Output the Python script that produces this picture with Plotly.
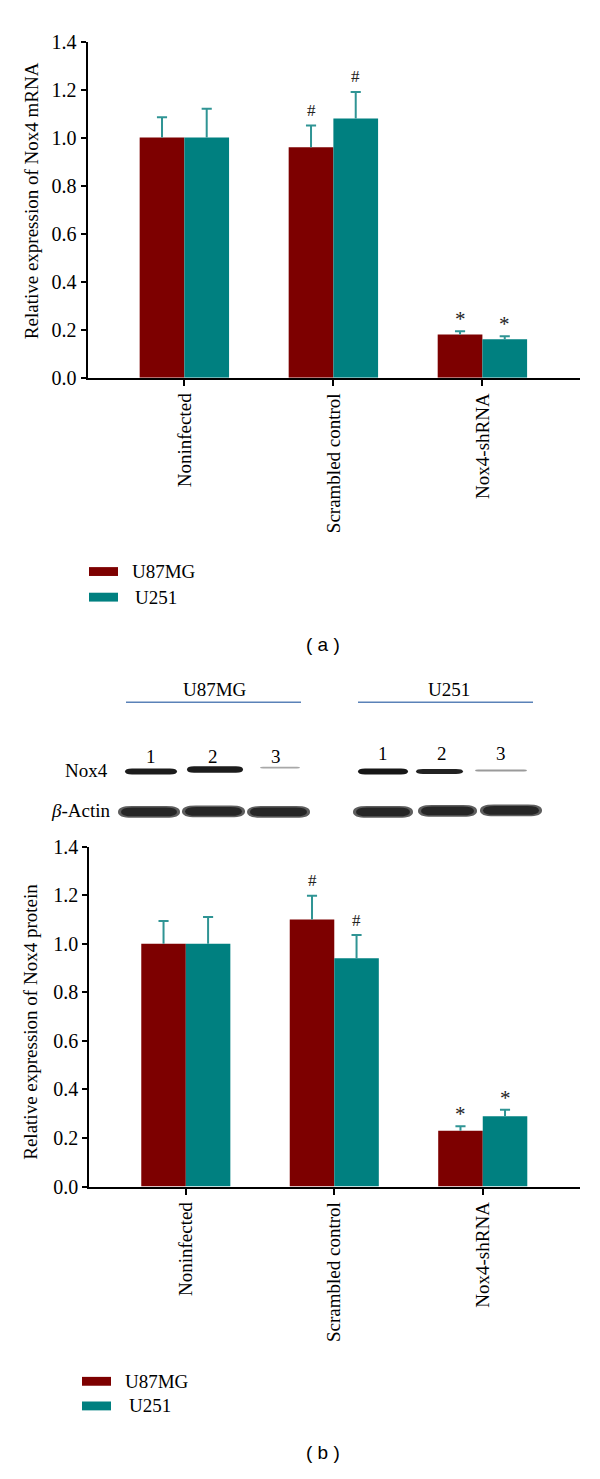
import plotly.graph_objects as go

# ---------------- data ----------------
categories = ["Noninfected", "Scrambled control", "Nox4-shRNA"]
series_names = ["U87MG", "U251"]

mrna_u87 = [1.00, 0.96, 0.18]
mrna_u87_err = [0.085, 0.09, 0.014]
mrna_u251 = [1.00, 1.08, 0.16]
mrna_u251_err = [0.12, 0.11, 0.013]

prot_u87 = [1.00, 1.10, 0.23]
prot_u87_err = [0.094, 0.098, 0.018]
prot_u251 = [1.00, 0.94, 0.29]
prot_u251_err = [0.11, 0.096, 0.026]

sig_u87 = ["", "#", "*"]
sig_u251 = ["", "#", "*"]

y_ticks = [0.0, 0.2, 0.4, 0.6, 0.8, 1.0, 1.2, 1.4]
lane_labels = ["1", "2", "3"]

# ---------------- style ----------------
W, H = 600, 1479
RED = "#7D0000"
TEAL = "#008080"
ERR = "#2F9494"
SERIF = "Liberation Serif, Times New Roman, serif"
SANS = "Liberation Sans, Arial, sans-serif"
XRANGE = [-0.65, 2.655]
BAR_OFF = 0.15     # half of a bar slot (bargap 0.4 -> each bar 0.3 wide)
CAP = 0.034        # half-width of the error cap in category units


def px(x):
    return x / W


def py(y):
    return 1 - y / H


fig = go.Figure()

panels = [
    dict(xa="x", ya="y", xo="x3", u87=mrna_u87, u87e=mrna_u87_err, u251=mrna_u251, u251e=mrna_u251_err),
    dict(xa="x2", ya="y2", xo="x4", u87=prot_u87, u87e=prot_u87_err, u251=prot_u251, u251e=prot_u251_err),
]

for p in panels:
    for name, col, vals, grp in ((series_names[0], RED, p["u87"], "a"), (series_names[1], TEAL, p["u251"], "b")):
        fig.add_trace(go.Bar(
            x=categories, y=vals, name=name, marker_color=col, marker_line_width=0,
            xaxis=p["xa"], yaxis=p["ya"], showlegend=False, offsetgroup=grp,
        ))
    # one-sided error bars (whisker + top cap only) on an overlaid numeric axis
    for off, vals, errs, sig in ((-BAR_OFF, p["u87"], p["u87e"], sig_u87),
                                 (BAR_OFF, p["u251"], p["u251e"], sig_u251)):
        ex, ey = [], []
        for j, (v, e) in enumerate(zip(vals, errs)):
            xc = j + off
            ex += [xc, xc, None, xc - CAP, xc + CAP, None]
            ey += [v, v + e, None, v + e, v + e, None]
        fig.add_trace(go.Scatter(x=ex, y=ey, mode="lines", line=dict(color=ERR, width=2),
                                 xaxis=p["xo"], yaxis=p["ya"], showlegend=False, hoverinfo="skip"))
        for j in range(3):
            if sig[j]:
                fig.add_annotation(
                    x=j + off, y=vals[j] + errs[j], xref=p["xo"], yref=p["ya"],
                    text=sig[j], showarrow=False, xanchor="center", yanchor="middle",
                    yshift=15 if sig[j] == "#" else 12,
                    font=dict(family=SERIF, size=17 if sig[j] == "#" else 21, color="#222"),
                )

axis_common_x = dict(
    type="category", range=XRANGE, showline=True, linecolor="black", linewidth=2,
    ticks="outside", ticklen=6, tickwidth=2, tickcolor="black", tickangle=-90,
    showgrid=False, zeroline=False, tickfont=dict(family=SERIF, size=19, color="black"),
)
axis_common_y = dict(
    range=[0, 1.4], tickvals=y_ticks, tickformat=".1f", showline=True, linecolor="black",
    linewidth=2, ticks="outside", ticklen=5, tickwidth=2, tickcolor="black",
    showgrid=False, zeroline=False, tickfont=dict(family=SERIF, size=20, color="black"),
)
overlay_x = dict(type="linear", range=XRANGE, visible=False, showgrid=False, zeroline=False)

fig.update_layout(
    width=W, height=H, margin=dict(l=0, r=0, t=0, b=0),
    paper_bgcolor="white", plot_bgcolor="white",
    barmode="group", bargap=0.4, bargroupgap=0,
    xaxis=dict(axis_common_x, domain=[px(87.5), px(580)], anchor="y"),
    yaxis=dict(axis_common_y, domain=[py(372.3), py(31)], anchor="x"),
    xaxis2=dict(axis_common_x, domain=[px(89.3), px(580)], anchor="y2"),
    yaxis2=dict(axis_common_y, domain=[py(1193.3), py(848.3)], anchor="x2"),
    xaxis3=dict(overlay_x, overlaying="x", anchor="y"),
    xaxis4=dict(overlay_x, overlaying="x2", anchor="y2"),
)


def text(x, y, s, size=19, family=SERIF, xanchor="center", angle=0):
    fig.add_annotation(x=px(x), y=py(y), xref="paper", yref="paper", text=s, showarrow=False,
                       xanchor=xanchor, yanchor="middle", textangle=angle,
                       font=dict(family=family, size=size, color="black"))


# y axis titles
text(31, 193, "Relative expression of Nox4 mRNA", angle=-90)
text(31, 1026, "Relative expression of Nox4 protein", angle=-90)

shapes = []


def legend(x0, y_red, y_teal, tx_red, tx_teal):
    for yc, col, tx, name in ((y_red, RED, tx_red, series_names[0]), (y_teal, TEAL, tx_teal, series_names[1])):
        shapes.append(dict(type="rect", xref="paper", yref="paper", x0=px(x0), x1=px(x0 + 29),
                           y0=py(yc - 4.5), y1=py(yc + 4.5), fillcolor=col, line_width=0))
        text(tx, yc, name, xanchor="left")


legend(89, 569, 595, 130, 133)
legend(82, 1391, 1416, 123, 127)

# captions
text(323, 643, "( a )", size=19, family=SANS)
text(323, 1463, "( b )", size=19, family=SANS)

# ---------------- western blot ----------------
for name, cx, lx0, lx1 in (("U87MG", 215, 126, 301), ("U251", 449, 358, 533)):
    text(cx, 689, name)
    shapes.append(dict(type="line", xref="paper", yref="paper", x0=px(lx0), x1=px(lx1),
                       y0=py(701.7), y1=py(701.7), line=dict(color="#5A82B8", width=1.5)))

for lbl, cx, cy in zip(lane_labels * 2, [151, 213, 276, 383, 442, 501], [757, 757, 757, 754, 754, 754]):
    text(cx, cy, lbl, size=19)

text(110, 771, "Nox4", xanchor="right")
text(113, 812, "<i>β</i>-Actin", xanchor="right")


def band(x0, x1, yc, h, color, r=7):
    yt, yb = yc - h / 2, yc + h / 2
    path = (f"M {px(x0 + r)},{py(yt)} L {px(x1 - r)},{py(yt)} "
            f"Q {px(x1)},{py(yt)} {px(x1)},{py(yc)} Q {px(x1)},{py(yb)} {px(x1 - r)},{py(yb)} "
            f"L {px(x0 + r)},{py(yb)} Q {px(x0)},{py(yb)} {px(x0)},{py(yc)} "
            f"Q {px(x0)},{py(yt)} {px(x0 + r)},{py(yt)} Z")
    shapes.append(dict(type="path", xref="paper", yref="paper", path=path, fillcolor=color, line_width=0))


# Nox4 bands
band(125, 177, 772, 6, "#1c1c1c")
band(187, 243, 770, 6.5, "#1c1c1c")
band(260, 300, 768, 1.8, "#a8a8a8", r=3)
band(358, 408, 772, 6, "#161616")
band(416, 463, 772, 5, "#222222")
band(475, 527, 771, 2.2, "#9a9a9a", r=3)
# beta-actin bands (soft halo + core)
for x0, x1, yc in ((118, 180, 813), (182, 245, 812.5), (247, 310, 813),
                   (353, 413, 813), (418, 477, 812), (480, 542, 811.5)):
    band(x0, x1, yc, 12, "#5e5e5e", r=14)
    band(x0 + 3, x1 - 3, yc, 9, "#262626", r=12)

fig.update_layout(shapes=shapes)

fig.write_html("out.html", config={"displayModeBar": False},
               post_script="document.body.style.margin='0';")
